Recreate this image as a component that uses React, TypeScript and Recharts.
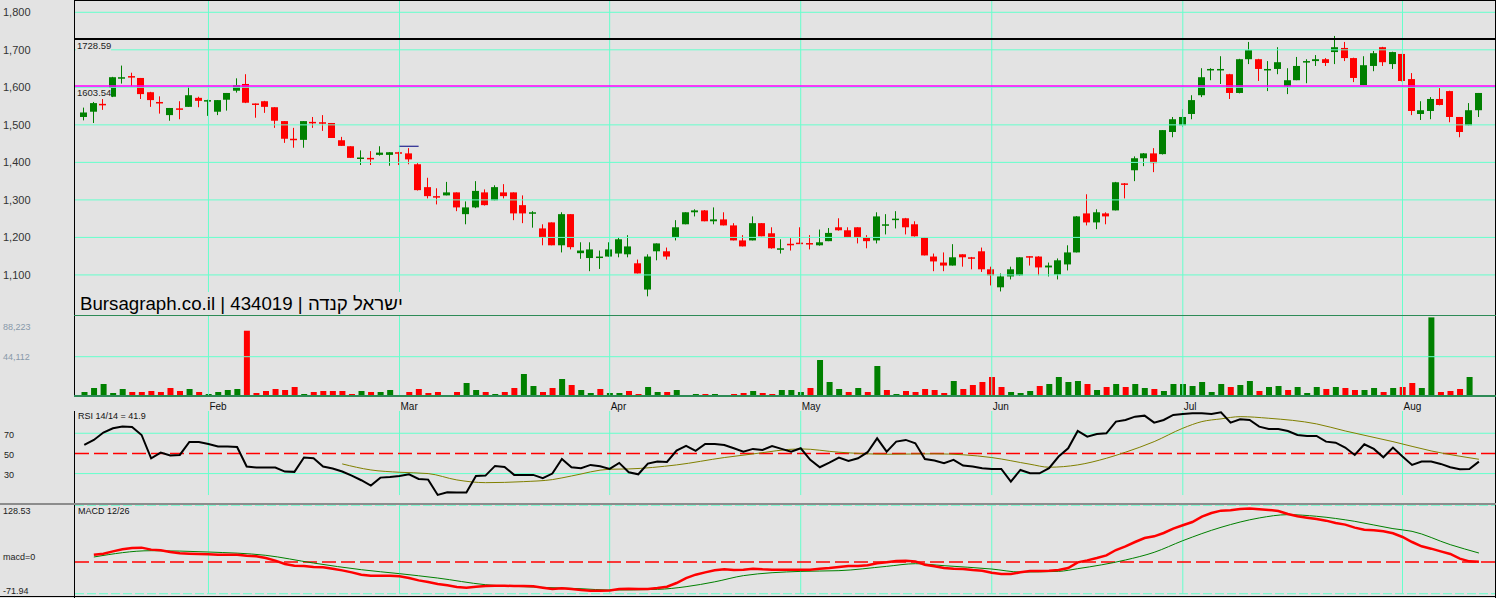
import React from 'react'
import { ComposedChart, Bar, Line, XAxis, YAxis, ReferenceLine, Cell } from 'recharts'

// daily candles (index 0 = first session)
const opens = [
  1521, 1535, 1556, 1575, 1626, 1630, 1625, 1587, 1561, 1526,
  1544, 1548, 1572, 1565, 1535, 1567, 1591, 1609, 1557, 1563,
  1547, 1510, 1463, 1460, 1508, 1507, 1505, 1459, 1443, 1412,
  1412, 1420, 1420, 1427, 1424, 1395, 1334, 1310, 1312, 1320,
  1262, 1280, 1320, 1299, 1320, 1320, 1286, 1266, 1224, 1240,
  1179, 1262, 1158, 1145, 1145, 1149, 1157, 1155, 1131, 1061,
  1163, 1163, 1200, 1235, 1267, 1272, 1243, 1248, 1232, 1192,
  1192, 1238, 1211, 1170, 1183, 1186, 1185, 1179, 1190, 1227,
  1219, 1227, 1200, 1192, 1234, 1249, 1251, 1235, 1200, 1149,
  1133, 1125, 1155, 1147, 1163, 1115, 1067, 1096, 1099, 1150,
  1149, 1120, 1101, 1128, 1160, 1264, 1240, 1264, 1272, 1344,
  1379, 1411, 1424, 1422, 1481, 1499, 1529, 1579, 1648, 1648,
  1635, 1585, 1675, 1675, 1648, 1649, 1603, 1619, 1669, 1670,
  1675, 1694, 1705, 1678, 1606, 1657, 1707, 1662, 1689, 1622,
  1529, 1537, 1569, 1590, 1521, 1499, 1539,
]
const highs = [
  1546, 1561, 1569, 1628, 1658, 1639, 1625, 1588, 1576, 1545,
  1563, 1602, 1575, 1567, 1566, 1585, 1624, 1635, 1557, 1564,
  1547, 1510, 1492, 1510, 1521, 1526, 1505, 1468, 1443, 1432,
  1430, 1443, 1427, 1428, 1438, 1398, 1359, 1331, 1348, 1320,
  1296, 1350, 1328, 1339, 1342, 1320, 1312, 1270, 1235, 1240,
  1267, 1262, 1187, 1187, 1165, 1187, 1200, 1206, 1141, 1155,
  1184, 1173, 1246, 1267, 1275, 1273, 1280, 1267, 1238, 1206,
  1256, 1238, 1227, 1195, 1198, 1227, 1206, 1221, 1225, 1251,
  1227, 1227, 1206, 1267, 1262, 1270, 1252, 1243, 1201, 1157,
  1160, 1182, 1155, 1148, 1173, 1122, 1104, 1122, 1147, 1150,
  1150, 1133, 1144, 1179, 1257, 1315, 1275, 1267, 1348, 1345,
  1416, 1425, 1438, 1486, 1521, 1542, 1579, 1651, 1651, 1683,
  1636, 1676, 1721, 1676, 1670, 1707, 1651, 1681, 1675, 1686,
  1678, 1737, 1721, 1679, 1683, 1697, 1708, 1695, 1689, 1638,
  1563, 1574, 1598, 1591, 1521, 1558, 1585,
]
const lows = [
  1512, 1505, 1540, 1574, 1610, 1603, 1569, 1548, 1530, 1511,
  1515, 1548, 1547, 1524, 1526, 1538, 1586, 1558, 1519, 1532,
  1492, 1452, 1439, 1439, 1492, 1484, 1465, 1444, 1412, 1393,
  1393, 1418, 1391, 1393, 1395, 1325, 1304, 1288, 1312, 1270,
  1235, 1278, 1285, 1299, 1304, 1246, 1238, 1226, 1179, 1179,
  1160, 1168, 1143, 1110, 1116, 1149, 1147, 1147, 1104, 1043,
  1139, 1141, 1192, 1235, 1256, 1243, 1235, 1232, 1192, 1176,
  1192, 1203, 1170, 1157, 1165, 1184, 1168, 1178, 1190, 1218,
  1200, 1184, 1171, 1184, 1208, 1224, 1208, 1202, 1152, 1110,
  1110, 1125, 1122, 1115, 1108, 1072, 1056, 1088, 1098, 1125,
  1099, 1096, 1088, 1112, 1160, 1232, 1222, 1235, 1272, 1304,
  1350, 1390, 1374, 1421, 1467, 1494, 1515, 1574, 1619, 1609,
  1569, 1584, 1662, 1617, 1590, 1635, 1582, 1619, 1611, 1657,
  1657, 1662, 1670, 1614, 1606, 1643, 1657, 1649, 1616, 1526,
  1513, 1515, 1552, 1507, 1467, 1499, 1521,
]
const closes = [
  1533, 1558, 1554, 1627, 1627, 1628, 1582, 1566, 1559, 1545,
  1542, 1579, 1564, 1566, 1566, 1585, 1606, 1559, 1556, 1548,
  1511, 1463, 1462, 1510, 1507, 1505, 1465, 1444, 1412, 1413,
  1411, 1426, 1427, 1426, 1408, 1326, 1310, 1309, 1320, 1280,
  1280, 1324, 1286, 1334, 1310, 1264, 1264, 1267, 1200, 1179,
  1262, 1174, 1165, 1168, 1149, 1168, 1195, 1176, 1104, 1149,
  1184, 1149, 1227, 1267, 1272, 1243, 1248, 1232, 1192, 1176,
  1238, 1203, 1171, 1171, 1182, 1185, 1184, 1187, 1212, 1219,
  1200, 1200, 1190, 1256, 1235, 1250, 1227, 1203, 1152, 1136,
  1125, 1147, 1147, 1146, 1115, 1099, 1096, 1115, 1147, 1149,
  1120, 1125, 1139, 1160, 1256, 1240, 1267, 1256, 1347, 1340,
  1411, 1424, 1398, 1486, 1515, 1521, 1566, 1627, 1649, 1649,
  1585, 1675, 1699, 1649, 1649, 1667, 1619, 1657, 1670, 1675,
  1665, 1707, 1678, 1625, 1659, 1691, 1667, 1694, 1617, 1537,
  1539, 1569, 1553, 1521, 1481, 1539, 1585,
]
const volumes = [
  4490, 8970, 13460, 3360, 7850, 4490, 4490, 5610, 4490, 8970,
  5610, 7850, 4490, 2240, 4490, 6730, 7850, 73260, 3360, 5610,
  7850, 6730, 10090, 2240, 4490, 5610, 5610, 5610, 2240, 5610,
  4490, 4490, 6730, 1120, 4490, 7850, 3360, 4490, 1120, 4490,
  14580, 6730, 4490, 2240, 4490, 8970, 24670, 11210, 4490, 8970,
  19060, 12340, 6730, 3360, 7850, 3360, 3360, 5610, 2240, 10090,
  4490, 4490, 6730, 1120, 2240, 2240, 2240, 1120, 2240, 3360,
  5610, 3360, 2240, 6730, 6730, 4490, 8970, 40370, 15700, 7850,
  4490, 8970, 4490, 33640, 6730, 2240, 5610, 4490, 7850, 6730,
  3360, 16820, 7850, 12340, 15700, 21310, 10090, 4490, 3360, 5610,
  11210, 13460, 21310, 15700, 16820, 13460, 6730, 10090, 13460, 10090,
  13460, 8970, 7850, 5610, 13460, 13460, 11210, 15700, 4490, 13460,
  10090, 12340, 16820, 5610, 10090, 11210, 6730, 10090, 3360, 10090,
  7850, 10090, 8970, 6730, 6730, 8970, 4490, 8970, 10090, 14580,
  8970, 88223, 4490, 5610, 7850, 21310, 1120,
]
// g = up-volume bar, r = down-volume bar
const volumeColors =
  'gggggrrrrr' + 'rgrggggrrr' + 'rrrgrrrrrg' + 'rggrrrrrgr' + 'ggrgrrggrr' +
  'grggrggrrg' + 'grgggrgrrr' + 'grrgggrggg' + 'rgrgrgrrrr' + 'rgrrrrrggg' +
  'rggggrgrgr' + 'ggrggggggg' + 'rggrggrggg' + 'rgrrggrgrr' + 'ggrrrgg'

const rsi = [
  58.4, 63.4, 70.7, 75, 76.6, 76.3, 68.3, 45.2, 50.8, 47.9,
  48.5, 61.4, 61.4, 59.4, 56.8, 56.8, 56.4, 37, 36, 36,
  36, 32, 31.7, 45.9, 45.2, 37, 35, 32, 28, 23.4,
  18.1, 26, 26.7, 27.7, 29.3, 24.7, 24, 8.8, 11.5, 11.2,
  11.2, 27.7, 28, 37.6, 36.6, 28.7, 28.7, 28.7, 25.4, 30,
  44.5, 36.3, 35.3, 38.6, 37.3, 34.6, 40.6, 31.3, 29.3, 39.9,
  41.9, 41.6, 52.8, 57.4, 52.5, 59.4, 59.4, 58.4, 55.1, 51.8,
  54.5, 53.5, 57.4, 54.5, 51.8, 55.1, 43.6, 36.3, 40.9, 45.9,
  42.6, 45.2, 51.2, 65, 51.8, 61.7, 63.4, 60.1, 44.5, 42.9,
  40.2, 43.6, 37.9, 37, 35.3, 34.6, 34.6, 22.1, 33.6, 30.3,
  30.3, 35.3, 46.9, 55.1, 72.3, 66.7, 69.3, 70, 81.6, 83.2,
  86.5, 87.5, 80.6, 83.2, 88.2, 89.2, 89.8, 89.8, 89.2, 90.8,
  80.6, 83.9, 83.2, 76.6, 74.3, 74.3, 72.3, 68.3, 67.4, 67.4,
  61.7, 60.7, 55.8, 48.5, 59.1, 54.5, 46.2, 55.8, 46.9, 38.6,
  41.9, 41.9, 39.6, 36.3, 34.3, 34.6, 41.9,
]
// smoothed RSI: [session index, value]
const rsiSignal: [number, number][] = [
  [27, 39.6], [30, 33.6], [33, 31.3], [36, 30], [39, 23.7], [42, 21], [46, 22], [49, 24],
  [51, 27.6], [55, 34.3], [57, 34.6], [62, 38.6], [67, 45.9], [70, 49.5], [75, 54.5],
  [79, 51.2], [84, 49.2], [89, 49.6], [95, 45.9], [99, 39.3], [101, 36.3], [104, 38.6],
  [107, 45.2], [109, 51.2], [112, 61.7], [115, 75], [117, 81.6], [119, 84.3], [121, 86.5],
  [124, 84.9], [129, 79.3], [132, 72.3], [137, 61.7], [141, 52.5], [146, 44.2],
]
const macd = [
  null, 16.6, 18.8, 24.1, 28.7, 31.7, 32.5, 28, 26.4, 22.6,
  19.6, 18.8, 18.1, 17.3, 16.6, 16.6, 16.6, 14.3, 12.8, 9,
  3, -4.6, -8.4, -9.2, -11.4, -12.2, -15.2, -19, -23.5, -28.8,
  -31.1, -31.1, -31.1, -32.6, -36.4, -41.7, -45.5, -50, -53, -56.8,
  -58.3, -56.1, -54.6, -53.8, -53.8, -54.6, -54.6, -55.3, -58.3, -61.4,
  -59.8, -61.4, -63.6, -65.1, -65.1, -64.4, -61.4, -60.6, -61.4, -61.4,
  -59.1, -56.1, -47.7, -36.4, -28.8, -23.5, -19, -16.7, -18.2, -17.5,
  -15.2, -16.7, -17.5, -17.5, -17.5, -17.5, -17.5, -15.2, -13.7, -11.4,
  -9.2, -9.2, -7.6, -3.1, -0.8, 2.2, 3, 1.4, -6.1, -9.9,
  -13.7, -15.2, -16, -18.2, -19.7, -24.3, -27.3, -27.3, -23.5, -20.5,
  -20.5, -19.7, -18.2, -13.7, -0.8, 3.7, 9, 15, 27.1, 35.5,
  45.3, 54.4, 58.2, 65.7, 75.6, 83.2, 90.7, 102.8, 111.1, 116.4,
  117.2, 120.2, 121, 119.5, 117.9, 115.7, 108.9, 103.6, 100.5, 97.5,
  93.7, 88.4, 84.7, 77.9, 73.3, 71.8, 69.5, 65, 56.7, 45.3,
  35.5, 30.2, 24.1, 18.1, 7.5, 1.4, 0.7,
]
const macdSignal: [number, number][] = [
  [1, 11.3], [7, 25.6], [13, 22.6], [19, 15.1], [24, -2.4], [29, -17.5], [33, -26.5],
  [37, -36.4], [42, -51.5], [47, -56.8], [52, -60.6], [55, -63.6], [60, -62.1], [63, -56],
  [66, -45], [69, -31], [75, -21.3], [79, -19.7], [84, -9.9], [87, -3.9], [90, -8.4],
  [95, -16], [98, -22.8], [102, -21.3], [104, -15.2], [109, 4.5], [112, 21.9], [115, 48.3],
  [119, 78.6], [123, 99.8], [126, 107.3], [129, 103.6], [133, 92.2], [137, 75.6], [139, 69.5],
  [143, 39.3], [146, 20.3],
]

const months = ['Feb', 'Mar', 'Apr', 'May', 'Jun', 'Jul', 'Aug']
const monthStart = [13, 33, 55, 75, 95, 115, 138]
const priceTicks = [1100, 1200, 1300, 1400, 1500, 1600, 1700, 1800]
const volumeTicks = [44112, 88223]
const rsiTicks = [30, 50, 70]
const macdTicks = [-71.94, 0, 128.53]
const resistance = 1728.59
const support = 1603.54

const BG = '#e3e3e3'
const GRID = '#66ffcc'
const GREEN = '#008000'
const RED = '#ff0000'
const FRAME = '#2e8b57'
const FONT = '"Liberation Sans", Arial, sans-serif'

const rsiSigMap = new Map(rsiSignal)
const macdSigMap = new Map(macdSignal)
const rows = opens.map((o, i) => ({
  i, o, h: highs[i], l: lows[i], c: closes[i],
  v: volumes[i], up: volumeColors[i] === 'g',
  rsi: rsi[i], rsiSig: rsiSigMap.get(i) ?? null,
  macd: macd[i], macdSig: macdSigMap.get(i) ?? null,
}))

const xAxis = (
  <XAxis dataKey="i" type="category" scale="band" hide padding={{ left: 4.5, right: 11.3 }} />
)
const margin = { top: 0, right: 1, bottom: 0, left: 0 }

function Candle(props: any) {
  const { x, y, width, height, payload } = props
  if (!payload) return null
  const { o, h, l, c } = payload
  const top = Math.min(y, y + height)
  const bottom = Math.max(y, y + height)
  const toY = (v: number) => top + ((h - v) / (h - l)) * (bottom - top)
  const color = c >= o ? GREEN : RED
  const mid = Math.round(x + width / 2) - 1
  const bTop = toY(Math.max(o, c))
  const bBot = toY(Math.min(o, c))
  return (
    <g>
      <rect x={mid} y={top} width={1} height={bottom - top} fill={color} />
      <rect x={mid - 3} y={bTop} width={7} height={Math.max(1.5, bBot - bTop)} fill={color} />
    </g>
  )
}

function PriceTick({ y, payload }: any) {
  return (
    <text x={3} y={y + 4} fontSize={11} fill="#333" textAnchor="start" fontFamily={FONT}>
      {payload.value.toLocaleString('en-US')}
    </text>
  )
}

function VolumeTick({ y, payload }: any) {
  const dy = payload.value === 88223 ? 13 : 3.2
  return (
    <text x={3} y={y + dy} fontSize={9} fill="#8899aa" textAnchor="start" fontFamily={FONT}>
      {payload.value.toLocaleString('en-US')}
    </text>
  )
}

function RsiTick({ y, payload }: any) {
  return (
    <text x={4} y={y + 4.7} fontSize={9} fill="#222" textAnchor="start" fontFamily={FONT}>
      {payload.value}
    </text>
  )
}

function MacdTick({ y, payload }: any) {
  const v = payload.value
  const text = v === 0 ? 'macd=0' : String(v)
  const dy = v === 0 ? -1.5 : v > 0 ? 9.2 : 0.2
  return (
    <text x={3} y={y + dy} fontSize={9} fill="#222" textAnchor="start" fontFamily={FONT}>
      {text}
    </text>
  )
}

function LevelLabel({ viewBox, text }: any) {
  if (!viewBox) return null
  return (
    <g>
      <rect x={viewBox.x + 1} y={viewBox.y + 2} width={35} height={11} fill={BG} />
      <text x={viewBox.x + 2} y={viewBox.y + 10} fontSize={9.5} fill="#222" fontFamily={FONT}>
        {text}
      </text>
    </g>
  )
}

function MonthLabel({ viewBox, text }: any) {
  if (!viewBox) return null
  return (
    <text x={viewBox.x + 1} y={12.5} fontSize={10} fill="#111" fontFamily={FONT}>
      {text}
    </text>
  )
}

const line = (style: React.CSSProperties) => (
  <div style={{ position: 'absolute', pointerEvents: 'none', ...style }} />
)

export default function App() {
  return (
    <div style={{ position: 'absolute', left: 0, top: 0, width: 1496, height: 598, background: BG, overflow: 'hidden', fontFamily: FONT }}>
      {/* price */}
      <div style={{ position: 'absolute', left: 0, top: 0 }}>
        <ComposedChart width={1496} height={315} data={rows} margin={margin}>
          {xAxis}
          <YAxis type="number" domain={[993.2, 1832.8]} ticks={priceTicks} interval={0} width={75}
            axisLine={false} tickLine={false} tick={<PriceTick />} allowDataOverflow />
          {priceTicks.map((t) => <ReferenceLine key={t} y={t} stroke={GRID} />)}
          {monthStart.map((m) => <ReferenceLine key={m} x={m} stroke={GRID} />)}
          <Bar dataKey={(d: any) => [d.l, d.h]} barSize={7} shape={(p: any) => <Candle {...p} />} isAnimationActive={false} />
          <ReferenceLine y={resistance} stroke="#000" strokeWidth={2} label={<LevelLabel text={resistance.toFixed(2)} />} />
          <ReferenceLine y={support} stroke="#ff00ff" strokeWidth={1.5} label={<LevelLabel text={support.toFixed(2)} />} />
          <ReferenceLine segment={[{ x: 33, y: 1443 }, { x: 35, y: 1443 }]} stroke="#000080" />
        </ComposedChart>
      </div>

      {/* volume */}
      <div style={{ position: 'absolute', left: 0, top: 315 }}>
        <ComposedChart width={1496} height={81} data={rows} margin={margin}>
          {xAxis}
          <YAxis type="number" domain={[0, 90900]} ticks={volumeTicks} interval={0} width={75}
            axisLine={false} tickLine={false} tick={<VolumeTick />} allowDataOverflow />
          <ReferenceLine y={44112} stroke={GRID} />
          {monthStart.map((m) => <ReferenceLine key={m} x={m} stroke={GRID} />)}
          <Bar dataKey="v" barSize={6} isAnimationActive={false}>
            {rows.map((r) => <Cell key={r.i} fill={r.up ? GREEN : RED} />)}
          </Bar>
        </ComposedChart>
      </div>

      {/* RSI */}
      <div style={{ position: 'absolute', left: 0, top: 397 }}>
        <ComposedChart width={1496} height={106} data={rows} margin={margin}>
          {xAxis}
          <YAxis type="number" domain={[0.8, 106]} ticks={rsiTicks} interval={0} width={75}
            axisLine={false} tickLine={false} tick={<RsiTick />} allowDataOverflow />
          {monthStart.map((m, k) => (
            <ReferenceLine key={m} segment={[{ x: m, y: 92.1 }, { x: m, y: 8.7 }]} stroke={GRID}
              label={<MonthLabel text={months[k]} />} />
          ))}
          <ReferenceLine y={70} stroke={GRID} />
          <ReferenceLine y={30} stroke={GRID} />
          <ReferenceLine y={50} stroke={RED} strokeWidth={1.5} strokeDasharray="14 5" />
          <Line dataKey="rsiSig" type="monotone" connectNulls stroke="#808000" strokeWidth={1} dot={false} isAnimationActive={false} />
          <Line dataKey="rsi" type="linear" stroke="#000" strokeWidth={2} dot={false} isAnimationActive={false} />
        </ComposedChart>
      </div>

      {/* MACD */}
      <div style={{ position: 'absolute', left: 0, top: 505 }}>
        <ComposedChart width={1496} height={92} data={rows} margin={margin}>
          {xAxis}
          <YAxis type="number" domain={[-79.4, 129.2]} ticks={macdTicks} interval={0} width={75}
            axisLine={false} tickLine={false} tick={<MacdTick />} allowDataOverflow />
          {monthStart.map((m) => (
            <ReferenceLine key={m} segment={[{ x: m, y: 128.53 }, { x: m, y: -71.94 }]} stroke={GRID} />
          ))}
          <ReferenceLine y={128.53} stroke={GRID} strokeDasharray="9 3" />
          <ReferenceLine y={-71.94} stroke={GRID} strokeDasharray="9 3" />
          <ReferenceLine y={0} stroke={RED} strokeWidth={1.5} strokeDasharray="14 5" />
          <Line dataKey="macdSig" type="monotone" connectNulls stroke={GREEN} strokeWidth={1} dot={false} isAnimationActive={false} />
          <Line dataKey="macd" type="linear" stroke={RED} strokeWidth={2.5} dot={false} isAnimationActive={false} />
        </ComposedChart>
      </div>

      {/* captions */}
      <div style={{ position: 'absolute', left: 75, top: 292, width: 330, height: 23, background: BG }}>
        <div style={{ paddingLeft: 5, paddingTop: 1.5, fontSize: 18.7, lineHeight: '20px', color: '#000', whiteSpace: 'nowrap' }}>
          Bursagraph.co.il | 434019 | ישראל קנדה
        </div>
      </div>
      <div style={{ position: 'absolute', left: 78, top: 412, fontSize: 9, lineHeight: '9px', color: '#111' }}>
        {`RSI 14/14 = ${rsi[rsi.length - 1]}`}
      </div>
      <div style={{ position: 'absolute', left: 78, top: 507, fontSize: 9, lineHeight: '9px', color: '#111' }}>
        MACD 12/26
      </div>

      {/* panel frames */}
      {line({ left: 74, top: 0, width: 1422, height: 1, background: '#000' })}
      {line({ left: 74, top: 0, width: 1, height: 397, background: '#000' })}
      {line({ left: 74, top: 411, width: 1, height: 187, background: '#000' })}
      {line({ left: 1495, top: 0, width: 1, height: 598, background: '#000' })}
      {line({ left: 74, top: 315, width: 1422, height: 1, background: FRAME })}
      {line({ left: 74, top: 395, width: 1422, height: 2, background: FRAME })}
      {line({ left: 0, top: 503, width: 1496, height: 2, background: '#8c8c8c' })}
      {line({ left: 0, top: 596, width: 1496, height: 1, background: '#000' })}
    </div>
  )
}
